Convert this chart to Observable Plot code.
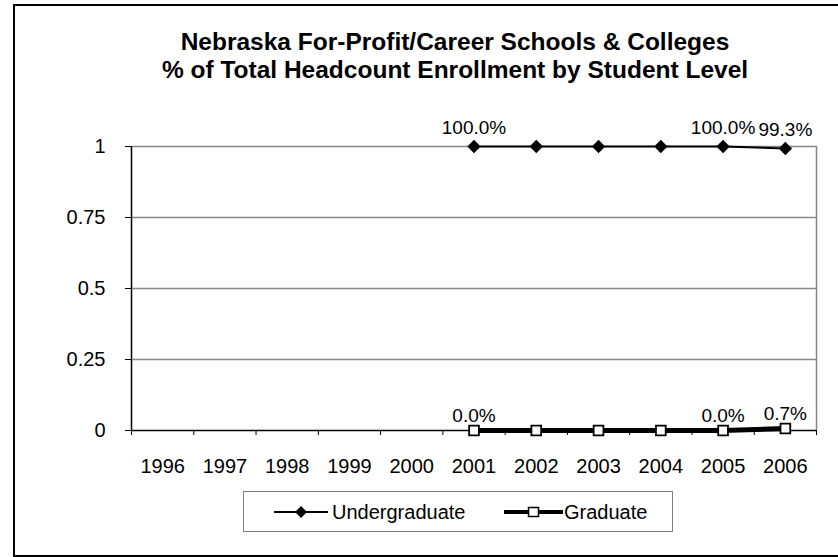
<!DOCTYPE html>
<html>
<head>
<meta charset="utf-8">
<script src="https://cdn.jsdelivr.net/npm/d3@7"></script>
<script src="https://cdn.jsdelivr.net/npm/@observablehq/plot@0.6"></script>
<style>
  html, body { margin: 0; padding: 0; background: #fff; }
  #wrap { position: relative; width: 838px; height: 557px; overflow: hidden; font-family: "Liberation Sans", Arial, sans-serif; }
  #frame { position: absolute; left: 13px; top: 4px; width: 860px; height: 549px; border: 2px solid #000; box-sizing: content-box; }
  #chart { position: absolute; left: 0; top: 0; }
  #title { position: absolute; left: 43px; width: 824px; top: 28px; text-align: center; font-weight: bold; font-size: 24.5px; line-height: 28px; color: #000; white-space: nowrap; }
  #legend { position: absolute; left: 243px; top: 491px; width: 430px; height: 41px; border: 1px solid #808080; box-sizing: border-box; font-size: 20px; }
  .sw { position: absolute; top: 13px; }
  .lab { position: absolute; top: 9px; line-height: 22px; white-space: nowrap; }
</style>
</head>
<body>
<div id="wrap">
  <div id="frame"></div>
  <div id="chart"></div>
  <div id="title">Nebraska For-Profit/Career Schools &amp; Colleges<br>% of Total Headcount Enrollment by Student Level</div>
  <div id="legend"></div>
</div>
<script>
const years = ["1996","1997","1998","1999","2000","2001","2002","2003","2004","2005","2006"];
const undergraduate = [null,null,null,null,null,1,1,1,1,1,0.993];
const graduate = [null,null,null,null,null,0,0,0,0,0,0.007];
const undergraduateLabels = ["","","","","","100.0%","","","","100.0%","99.3%"];
const graduateLabels = ["","","","","","0.0%","","","","0.0%","0.7%"];
const yTicks = [0, 0.25, 0.5, 0.75, 1];
const seriesNames = ["Undergraduate", "Graduate"];

const rows = years.map((year, i) => ({
  i, year,
  ug: undergraduate[i], grad: graduate[i],
  ugLabel: undergraduateLabels[i], gradLabel: graduateLabels[i]
}));
const ugRows = rows.filter(d => d.ug != null);
const gradRows = rows.filter(d => d.grad != null);
const xc = d => d.i + 0.5;

const grey = "#868686";
const chart = Plot.plot({
  width: 838,
  height: 557,
  marginLeft: 131,
  marginRight: 22,
  marginTop: 146,
  marginBottom: 127,
  style: { fontFamily: "Liberation Sans, Arial, sans-serif", fontSize: "20px", color: "#000", background: "transparent" },
  x: { type: "linear", domain: [0, years.length] },
  y: { domain: [0, 1] },
  marks: [
    Plot.gridY(yTicks.filter(d => d > 0), { stroke: grey, strokeOpacity: 1, strokeWidth: 1.5 }),
    Plot.ruleX([years.length], { stroke: grey, strokeWidth: 1.5 }),
    Plot.axisY(yTicks, { tickSize: 6, tickPadding: 20, tickFormat: d => String(d), stroke: "#000", strokeWidth: 1, fontSize: 20 }),
    Plot.axisX(d3.range(years.length + 1), { tickSize: 5, tickFormat: () => "", strokeWidth: 1 }),
    Plot.axisX(years.map((y, i) => i + 0.5), { tickSize: 0, tickPadding: 28, tickFormat: v => years[Math.floor(v)], fontSize: 20 }),
    Plot.ruleX([0], { stroke: "#000", strokeWidth: 1.5 }),
    Plot.ruleY([0], { stroke: "#000", strokeWidth: 1.5 }),
    Plot.line(gradRows, { x: xc, y: "grad", stroke: "#000", strokeWidth: 5 }),
    Plot.dot(gradRows, { x: xc, y: "grad", symbol: "square", r: 5.5, fill: "#fff", stroke: "#000", strokeWidth: 1.8 }),
    Plot.line(ugRows, { x: xc, y: "ug", stroke: "#000", strokeWidth: 2 }),
    Plot.dot(ugRows, { x: xc, y: "ug", symbol: "diamond2", r: 6, fill: "#000" }),
    Plot.text(ugRows.filter(d => d.ugLabel), { x: xc, y: "ug", text: "ugLabel", dy: -19, fontSize: 19, fill: "#000" }),
    Plot.text(gradRows.filter(d => d.gradLabel), { x: xc, y: "grad", text: "gradLabel", dy: -15, fontSize: 19, fill: "#000" })
  ]
});
document.getElementById("chart").appendChild(chart);

// legend (positions relative to legend box)
const legendItems = [
  { name: seriesNames[0], symbol: "diamond", width: 2, lineX: 30, lineW: 54, textX: 88 },
  { name: seriesNames[1], symbol: "square", width: 4, lineX: 260, lineW: 59, textX: 320 }
];
const legend = document.getElementById("legend");
for (const it of legendItems) {
  const svg = d3.create("svg").attr("class", "sw").attr("width", it.lineW).attr("height", 14)
    .style("left", it.lineX + "px");
  svg.append("line").attr("x1", 0).attr("x2", it.lineW).attr("y1", 7).attr("y2", 7).attr("stroke", "#000").attr("stroke-width", it.width);
  const cx = it.lineW / 2;
  if (it.symbol === "diamond") {
    svg.append("path").attr("d", d3.symbol(d3.symbolDiamond2, 90)()).attr("transform", `translate(${cx},7)`).attr("fill", "#000");
  } else {
    svg.append("rect").attr("x", cx - 5).attr("y", 2.5).attr("width", 10).attr("height", 9).attr("fill", "#fff").attr("stroke", "#000").attr("stroke-width", 1.5);
  }
  legend.appendChild(svg.node());
  const span = document.createElement("span");
  span.className = "lab";
  span.style.left = it.textX + "px";
  span.textContent = it.name;
  legend.appendChild(span);
}
</script>
</body>
</html>
